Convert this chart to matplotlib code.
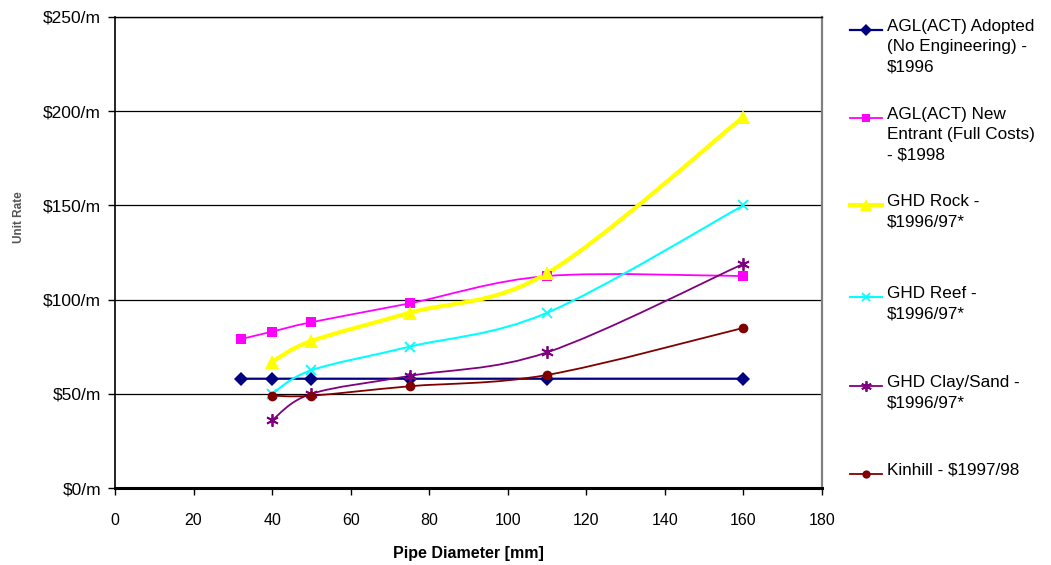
import matplotlib
matplotlib.use('Agg')
import matplotlib.pyplot as plt
from matplotlib.path import Path
from matplotlib.patches import PathPatch
from matplotlib.lines import Line2D
import matplotlib.ticker as mticker

plt.rcParams['font.family'] = ['Liberation Sans', 'DejaVu Sans']

# data
diam_agl = [32, 40, 50, 75, 110, 160]
agl_adopted = [58, 58, 58, 58, 58, 58]
agl_new = [79, 83, 88, 98, 112.5, 112.5]

diam_ghd = [40, 50, 75, 110, 160]
ghd_rock = [67, 78, 93, 114, 197]
ghd_reef = [50, 62.5, 75, 93, 150]
ghd_clay = [36, 50, 59.5, 72, 119]
kinhill = [49, 49, 54, 60, 85]

labels = ['AGL(ACT) Adopted\n(No Engineering) -\n$1996',
          'AGL(ACT) New\nEntrant (Full Costs)\n- $1998',
          'GHD Rock -\n$1996/97*',
          'GHD Reef -\n$1996/97*',
          'GHD Clay/Sand -\n$1996/97*',
          'Kinhill - $1997/98']

x_ticks = list(range(0, 181, 20))
y_ticks = [0, 50, 100, 150, 200, 250]


def smooth_path(xs, ys):
    # Excel style smoothed line: cubic bezier through the points
    pts = list(zip(xs, ys))
    n = len(pts)
    verts = [pts[0]]
    codes = [Path.MOVETO]
    for i in range(n - 1):
        p0 = pts[i - 1] if i > 0 else pts[i]
        p1 = pts[i]
        p2 = pts[i + 1]
        p3 = pts[i + 2] if i + 2 < n else pts[i + 1]
        c1 = (p1[0] + (p2[0] - p0[0]) / 6, p1[1] + (p2[1] - p0[1]) / 6)
        c2 = (p2[0] - (p3[0] - p1[0]) / 6, p2[1] - (p3[1] - p1[1]) / 6)
        verts += [c1, c2, p2]
        codes += [Path.CURVE4] * 3
    return Path(verts, codes)


series = [
    (diam_agl, agl_adopted, '#000080', 1.6, 'D', 7, 0),
    (diam_agl, agl_new, '#FF00FF', 1.3, 's', 7, 0),
    (diam_ghd, ghd_rock, '#FFFF00', 3.0, '^', 10, 0),
    (diam_ghd, ghd_reef, '#00FFFF', 1.5, 'x', 7, 1.3),
    (diam_ghd, ghd_clay, '#800080', 1.3, (6, 2, 0), 9, 1.3),
    (diam_ghd, kinhill, '#800000', 1.3, 'o', 7, 0),
]

fig = plt.figure(figsize=(10.51, 5.65), dpi=100)
ax = fig.add_axes([115 / 1051, 1 - 488 / 565, 707 / 1051, 471 / 565])

for xs, ys, col, lw, mk, ms, mew in series:
    ax.add_patch(PathPatch(smooth_path(xs, ys), facecolor='none', edgecolor=col, lw=lw, zorder=3))
    ax.plot(xs, ys, linestyle='none', marker=mk, markersize=ms, color=col,
            markeredgecolor=col, markeredgewidth=mew, zorder=4)

ax.set_xlim(0, 180)
ax.set_ylim(0, 250)
ax.set_xticks(x_ticks)
ax.set_yticks(y_ticks)
ax.yaxis.set_major_formatter(mticker.FuncFormatter(lambda v, p: '${:d}/m'.format(int(v))))
ax.yaxis.grid(True, color='black', linewidth=0.9)
ax.set_axisbelow(True)

ax.tick_params(axis='y', direction='out', length=5, width=1, pad=5, labelsize=12.5)
ax.tick_params(axis='x', direction='out', length=5, width=1, pad=13, labelsize=11.5)

ax.spines['left'].set_color('black')
ax.spines['left'].set_linewidth(1.2)
ax.spines['bottom'].set_color('black')
ax.spines['bottom'].set_linewidth(2.2)
ax.spines['right'].set_color('#808080')
ax.spines['right'].set_linewidth(1.6)
ax.spines['top'].set_color('black')
ax.spines['top'].set_linewidth(1)

ax.set_xlabel('Pipe Diameter [mm]', fontsize=11.5, fontweight='bold', labelpad=13)
ax.set_ylabel('Unit Rate', fontsize=8.5, fontweight='bold', color='#555555')
ax.yaxis.set_label_coords(-0.127, 0.575)

# legend drawn by hand so the handle sits on the first text line
W, H = 1051, 565
legend_y = [30, 118, 205, 297, 386, 474]
for (xs, ys, col, lw, mk, ms, mew), lab, yy in zip(series, labels, legend_y):
    fy = 1 - yy / H
    fig.add_artist(Line2D([850 / W, 882 / W], [fy, fy], color=col, lw=lw))
    fig.add_artist(Line2D([866 / W], [fy], marker=mk, markersize=ms * 0.85, color=col,
                          markeredgecolor=col, markeredgewidth=mew))
    fig.text(887 / W, fy + 11 / H, lab, fontsize=12.3, va='top', ha='left', linespacing=1.45)

plt.savefig('out.png', dpi=100)
plt.close()
